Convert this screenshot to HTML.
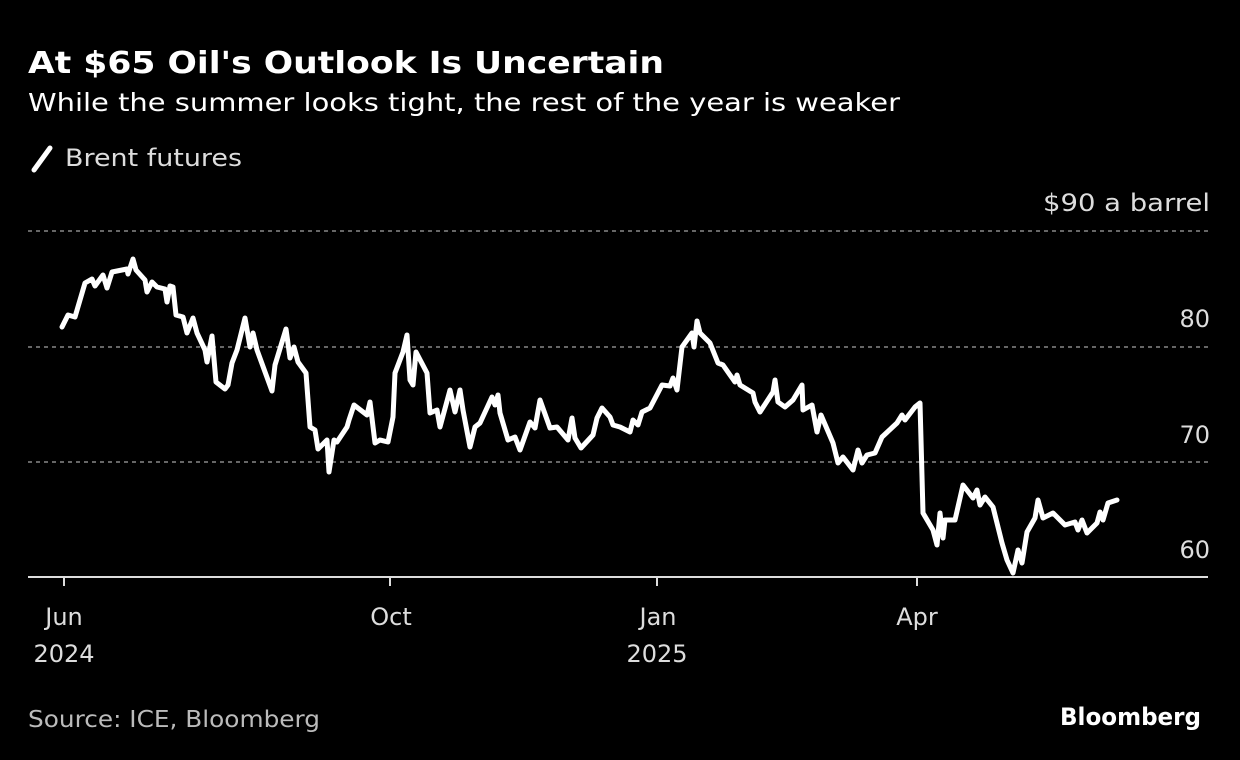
<!DOCTYPE html>
<html><head><meta charset="utf-8"><style>
body{margin:0;background:#000;width:1240px;height:760px;overflow:hidden;font-family:"DejaVu Sans",sans-serif;color:#fff}
</style></head><body>
<svg width="1240" height="760" xmlns="http://www.w3.org/2000/svg" style="position:absolute;left:0;top:0" font-family="DejaVu Sans, sans-serif">
<text x="28" y="73" font-size="30" font-weight="bold" fill="#fff" textLength="636" lengthAdjust="spacingAndGlyphs">At $65 Oil's Outlook Is Uncertain</text>
<text x="28" y="111" font-size="25" fill="#fff" textLength="872" lengthAdjust="spacingAndGlyphs">While the summer looks tight, the rest of the year is weaker</text>
<line x1="34" y1="170" x2="50" y2="148" stroke="#fff" stroke-width="5" stroke-linecap="round"/>
<text x="65" y="166" font-size="24" fill="#ddd" textLength="177" lengthAdjust="spacingAndGlyphs">Brent futures</text>
<g stroke="#888" stroke-width="1.5" stroke-dasharray="4,4">
<line x1="28" y1="231" x2="1208" y2="231"/><line x1="28" y1="347" x2="1208" y2="347"/><line x1="28" y1="462" x2="1208" y2="462"/>
</g>
<g font-size="24" fill="#ddd" text-anchor="end">
<text x="1210" y="211" textLength="167" lengthAdjust="spacingAndGlyphs">$90 a barrel</text><text x="1210" y="327">80</text><text x="1210" y="443">70</text><text x="1210" y="558">60</text>
</g>
<line x1="28" y1="577" x2="1208" y2="577" stroke="#ddd" stroke-width="2"/>
<g stroke="#ddd" stroke-width="2"><line x1="64" y1="577" x2="64" y2="586"/><line x1="390" y1="577" x2="390" y2="586"/><line x1="657" y1="577" x2="657" y2="586"/><line x1="917" y1="577" x2="917" y2="586"/></g>
<g font-size="24" fill="#ddd" text-anchor="middle">
<text x="64" y="625">Jun</text><text x="64" y="662">2024</text><text x="391" y="625">Oct</text><text x="658" y="625">Jan</text><text x="657" y="662">2025</text><text x="917" y="625">Apr</text>
</g>
<polyline fill="none" stroke="#fff" stroke-width="5" stroke-linejoin="round" stroke-linecap="round" points="62,327 68,315 75,317 85,283 92,279 95,286 103,275 107,288 112,272 127,269 128,274 133,259 136,270 145,280 147,292 152,282 157,287 165,289 167,302 170,286 173,287 176,315 183,317 187,333 193,318 197,333 205,350 207,362 212,336 216,382 225,389 228,385 232,363 237,350 245,318 250,347 253,333 257,350 272,391 275,365 286,329 290,358 294,347 298,362 306,373 310,427 315,430 318,449 327,440 329,472 334,440 337,442 347,427 349,420 354,405 367,415 370,402 375,443 380,440 388,442 393,417 395,373 403,352 407,335 410,380 413,385 416,352 427,373 430,413 437,410 440,427 450,390 455,412 460,390 463,410 470,447 475,427 480,423 492,397 495,405 498,395 500,413 508,440 515,437 520,450 530,422 535,428 540,400 550,428 557,427 568,440 572,418 575,438 581,448 593,435 597,418 602,408 610,417 613,425 620,427 630,432 633,420 638,425 642,412 650,408 662,385 670,386 673,378 677,390 682,347 692,333 694,347 697,321 700,333 710,343 718,363 723,365 730,375 735,382 737,375 740,385 753,393 755,402 760,412 773,392 775,380 778,402 785,407 793,400 802,385 803,410 812,405 817,432 821,415 833,443 838,463 843,457 853,470 858,450 862,463 867,455 875,453 882,437 897,423 902,415 905,420 915,407 920,403 923,513 933,530 937,545 940,513 943,538 945,520 955,520 963,485 973,498 977,490 980,505 985,497 993,507 1002,543 1007,560 1013,573 1018,550 1022,563 1027,532 1035,518 1038,500 1043,518 1053,513 1065,525 1075,522 1078,530 1082,520 1087,533 1097,523 1100,512 1103,520 1108,503 1117,500"/>
<text x="28" y="727" font-size="23" fill="#bbb" textLength="292" lengthAdjust="spacingAndGlyphs">Source: ICE, Bloomberg</text>
<text x="1201" y="725" font-size="24" font-weight="bold" fill="#fff" text-anchor="end" textLength="141" lengthAdjust="spacingAndGlyphs">Bloomberg</text>
</svg>
</body></html>
